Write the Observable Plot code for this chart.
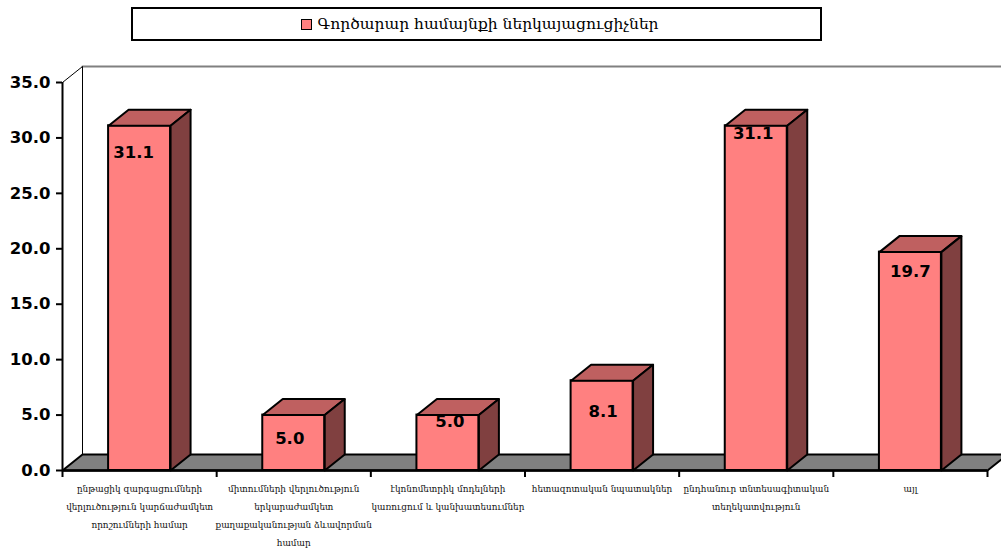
<!DOCTYPE html>
<html lang="hy">
<head>
<meta charset="utf-8">
<script src="https://cdn.jsdelivr.net/npm/d3@7"></script>
<script src="https://cdn.jsdelivr.net/npm/@observablehq/plot@0.6"></script>
<style>
  html, body { margin: 0; padding: 0; background: #fff; overflow: hidden; }
  #top { position: relative; height: 50px; width: 1001px; }
  #legend { position: absolute; left: 131px; top: 7px; width: 687px; height: 30px; border: 2px solid #000;
    display: flex; align-items: center; justify-content: center; font-family: "DejaVu Serif", serif; font-size: 15.5px; color: #000; background: #fff; }
  #swatch { width: 9px; height: 9px; background: #ff8080; border: 1.5px solid #000; margin-right: 5px; margin-left: 7px; display: inline-block; }
  svg { display: block; }
</style>
</head>
<body>
<div id="top"><div id="legend"><span id="swatch"></span><span id="legendText"></span></div></div>
<div id="chart"></div>
<script>
const seriesName = "Գործարար համայնքի ներկայացուցիչներ";
const categories = [
  "ընթացիկ զարգացումների\nվերլուծություն կարճաժամկետ\nորոշումների համար",
  "միտումների վերլուծություն\nերկարաժամկետ\nքաղաքականության ձևավորման\nհամար",
  "էկոնոմետրիկ մոդելների\nկառուցում և կանխատեսումներ",
  "հետազոտական նպատակներ",
  "ընդհանուր տնտեսագիտական\nտեղեկատվություն",
  "այլ"
];
const values = [31.1, 5.0, 5.0, 8.1, 31.1, 19.7];
const yTicks = [0, 5, 10, 15, 20, 25, 30, 35];

document.getElementById("legendText").textContent = seriesName;

// Chart geometry expressed in scale units
const depthX = 20 / 154.17, depthY = 16 / 11.086, halfBar = 0.201;
const xMax = categories.length, yMax = 35;
const rows = values.map((v, i) => ({i, v, cat: categories[i], c: i + 0.5}));

const poly = (face, pts) => pts.map(([x, y]) => ({face, x, y}));
const topFaces = rows.flatMap(d => poly(d.i, [
  [d.c - halfBar, d.v], [d.c + halfBar, d.v],
  [d.c + halfBar + depthX, d.v + depthY], [d.c - halfBar + depthX, d.v + depthY],
  [d.c - halfBar, d.v]
]));
const sideFaces = rows.flatMap(d => poly(d.i, [
  [d.c + halfBar, 0], [d.c + halfBar, d.v],
  [d.c + halfBar + depthX, d.v + depthY], [d.c + halfBar + depthX, depthY],
  [d.c + halfBar, 0]
]));
const floor = poly("floor", [[0, 0], [depthX, depthY], [xMax + depthX, depthY], [xMax, 0], [0, 0]]);

// Hand placement of the value labels, as in the source chart
const labelNudge = [[-6, 27], [-4, 24], [2, 7], [1, 31], [-3, 8], [0, 20]];

const num = {fontFamily: "'DejaVu Sans', sans-serif", fontWeight: "bold", fontSize: 16.5, fill: "#000"};

const chart = Plot.plot({
  width: 1001, height: 500,
  marginLeft: 62, marginRight: 14, marginTop: 32, marginBottom: 80,
  x: {type: "linear", domain: [0, xMax], axis: null},
  y: {domain: [0, yMax], axis: null},
  marks: [
    // back wall and left wall edges
    Plot.line(poly("top", [[depthX, depthY], [xMax + depthX, depthY]].map(([x, y]) => [x, y + yMax])),
      {x: "x", y: "y", stroke: "#808080", strokeWidth: 2}),
    Plot.line(poly("back", [[depthX, depthY], [depthX, yMax + depthY], [0, yMax]]),
      {x: "x", y: "y", stroke: "#000", strokeWidth: 1}),
    Plot.line(floor, {x: "x", y: "y", z: "face", fill: "#808080", stroke: "#000", strokeWidth: 2}),
    // bars
    Plot.rect(rows, {x1: d => d.c - halfBar, x2: d => d.c + halfBar, y1: 0, y2: "v", fill: "#ff8080", stroke: "#000", strokeWidth: 2}),
    Plot.line(topFaces, {x: "x", y: "y", z: "face", fill: "#bf6060", stroke: "#000", strokeWidth: 2}),
    Plot.line(sideFaces, {x: "x", y: "y", z: "face", fill: "#804040", stroke: "#000", strokeWidth: 2}),
    // axes
    Plot.ruleX([0], {y1: 0, y2: yMax, stroke: "#000", strokeWidth: 2}),
    Plot.ruleY([0], {x1: 0, x2: xMax, stroke: "#000", strokeWidth: 2.5}),
    Plot.axisY({ticks: yTicks, tickFormat: d3.format(".1f"), tickSize: 6, tickPadding: 6, strokeWidth: 2, stroke: "#000", label: null, ...num}),
    Plot.axisX({ticks: d3.range(xMax + 1), tickFormat: () => "", tickSize: 7, strokeWidth: 2, stroke: "#000", label: null}),
    // category labels
    Plot.text(rows, {x: "c", y: () => 0, text: "cat", dy: 9, lineAnchor: "top", lineHeight: 2.02,
      fontFamily: "'DejaVu Serif', serif", fontSize: 8.9, fill: "#111"}),
    // value labels
    ...rows.map((d, k) => Plot.text([d], {x: "c", y: "v", text: r => d3.format(".1f")(r.v),
      dx: labelNudge[k][0], dy: labelNudge[k][1], ...num}))
  ]
});
document.getElementById("chart").appendChild(chart);
</script>
</body>
</html>
